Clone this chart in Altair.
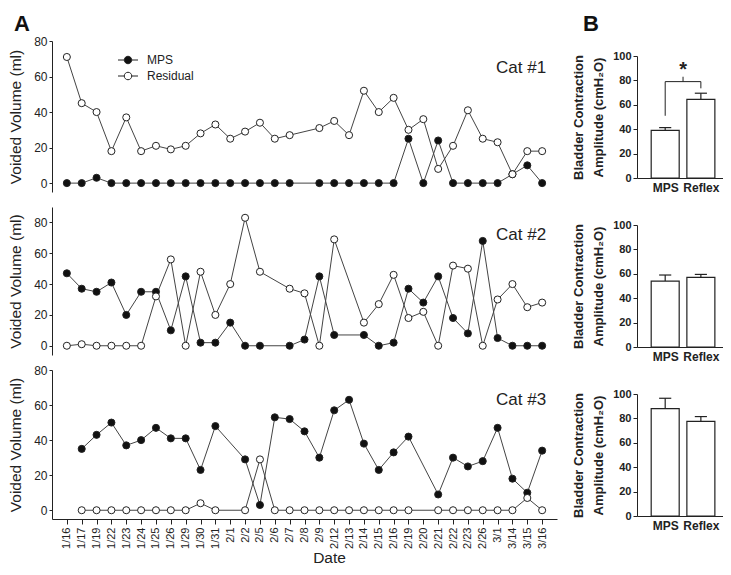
import altair as alt
import pandas as pd

dates = ["1/16", "1/17", "1/19", "1/22", "1/23", "1/24", "1/25", "1/26", "1/29", "1/30",
         "1/31", "2/1", "2/2", "2/5", "2/6", "2/7", "2/8", "2/9", "2/12", "2/13",
         "2/14", "2/15", "2/16", "2/19", "2/20", "2/21", "2/22", "2/23", "2/26", "3/1",
         "3/14", "3/15", "3/16"]
N = None
cat1_mps = [0, 0, 3, 0, 0, 0, 0, 0, 0, 0, 0, 0, 0, 0, 0, 0, N, 0, 0, 0, 0, 0, 0, 25, 0, 24, 0, 0, 0, 0, 5, 10, 0]
cat1_res = [71, 45, 40, 18, 37, 18, 21, 19, 21, 28, 33, 25, 29, 34, 25, 27, N, 31, 35, 27, 52, 40, 48, 30, 36, 8, 21, 41, 25, 23, 5, 18, 18]
cat2_mps = [47, 37, 35, 41, 20, 35, 35, 10, 45, 2, 2, 15, 0, 0, N, 0, 4, 45, 7, N, 7, 0, 2, 37, 28, 45, 18, 8, 68, 5, 0, 0, 0]
cat2_res = [0, 1, 0, 0, 0, 0, 32, 56, 0, 48, 20, 40, 83, 48, N, 37, 34, 0, 69, N, 15, 27, 46, 18, 22, 0, 52, 50, 0, 30, 40, 25, 28]
cat3_mps = [N, 35, 43, 50, 37, 40, 47, 41, 41, 23, 48, N, 29, 3, 53, 52, 45, 30, 57, 63, 38, 23, 33, 42, N, 9, 30, 25, 28, 47, 18, 10, 34]
cat3_res = [N, 0, 0, 0, 0, 0, 0, 0, 0, 4, 0, N, 0, 29, 0, 0, 0, 0, 0, 0, 0, 0, 0, 0, N, 0, 0, 0, 0, 0, 0, 7, 0]
series_names = ["MPS", "Residual"]
cat_labels = ["Cat #1", "Cat #2", "Cat #3"]
cat_label_y = [65, 72, 63]
y_ticks_line = [0, 20, 40, 60, 80]
panel_letters = ["A", "B"]

groups = ["MPS", "Reflex"]
b1_mean = [39, 64.5]
b1_err = [2.3, 5]
b2_mean = [54, 57]
b2_err = [5, 2.5]
b3_mean = [88, 77.5]
b3_err = [8.5, 4]
# significance bracket (B, top panel)
br_x = [0, 1, 0, 0.5]
br_x2 = [0, 1, 1, 0.5]
br_y = [51, 73.5, 79, 79]
br_y2 = [79, 79, 79, 83]
star_y = 88.5
y_ticks_bar = [0, 20, 40, 60, 80, 100]

FONT = "Liberation Sans"
INK = "#222"


def panel_df(mps, res):
    rows = []
    for i, (d, m, r) in enumerate(zip(dates, mps, res)):
        if m is not None:
            rows.append({"idx": i, "date": d, "series": "MPS", "value": m})
        if r is not None:
            rows.append({"idx": i, "date": d, "series": "Residual", "value": r})
    return pd.DataFrame(rows)


legend_path = ("M-2,0L-0.75,0M0.75,0L2,0M0.75,0A0.75,0.75,0,1,1,-0.75,0"
               "A0.75,0.75,0,1,1,0.75,0Z")


def letter(t, dx, dy):
    return alt.Chart(pd.DataFrame({"t": [t]})).mark_text(
        align="left", baseline="top", fontSize=22, fontWeight="bold",
        color="#111").encode(x=alt.value(dx), y=alt.value(dy), text="t:N")


def line_panel(mps, res, label, label_y, ydomain, height, show_x, show_legend):
    df = panel_df(mps, res)
    if show_x:
        xaxis = alt.Axis(title="Date", labelAngle=-90, labelFontSize=11, tickSize=5,
                         labelPadding=3, titleFontSize=15.5, titlePadding=2,
                         titleFontWeight="normal", titleX=277, domainColor=INK,
                         tickColor=INK, labelColor=INK, titleColor=INK)
    else:
        xaxis = None
    x = alt.X("date:O", scale=alt.Scale(type="point", domain=dates, padding=1),
              sort=dates, axis=xaxis)
    y = alt.Y("value:Q", scale=alt.Scale(domain=ydomain, nice=False, zero=False),
              axis=alt.Axis(values=y_ticks_line, title="Voided Volume (ml)",
                            labelFontSize=12, tickSize=3, labelPadding=2,
                            titleFontSize=15.5, titlePadding=10, titleFontWeight="normal",
                            domainColor=INK, tickColor=INK, labelColor=INK,
                            titleColor=INK))
    if show_legend:
        legend = alt.Legend(title=None, orient="none", legendX=70, legendY=13,
                            symbolType=legend_path, symbolSize=100,
                            symbolStrokeColor=INK, symbolStrokeWidth=1,
                            labelFontSize=12, labelOffset=13, rowPadding=4,
                            padding=0, labelColor=INK)
    else:
        legend = None
    base = alt.Chart(df)
    lines = base.mark_line(color="#444", strokeWidth=1).encode(
        x=x, y=y, detail="series:N", order="idx:Q")
    pts = base.mark_point(shape="circle", filled=True, size=50, stroke=INK,
                          strokeWidth=1, opacity=1).encode(
        x=x, y=y,
        fill=alt.Fill("series:N", scale=alt.Scale(domain=series_names,
                                                  range=["#111111", "#ffffff"]),
                      legend=legend))
    ldf = pd.DataFrame({"date": [dates[-1]], "value": [label_y], "label": [label]})
    txt = alt.Chart(ldf).mark_text(align="right", baseline="middle", dx=4,
                                   fontSize=17, color=INK).encode(
        x=x, y=y, text="label:N")
    layers = [lines, pts, txt]
    if show_legend:
        layers.append(letter(panel_letters[0], -38, -27))
    return alt.layer(*layers).properties(width=505, height=height)


def bar_panel(means, errs, bracket):
    df = pd.DataFrame({"x": [0, 1], "group": groups, "y": means, "err": errs})
    df["y2"] = df["y"] + df["err"]
    label_expr = "datum.value == 0 ? '%s' : '%s'" % (groups[0], groups[1])
    xaxis = alt.Axis(values=[0, 1], labelExpr=label_expr, ticks=False, title=None,
                     labelFontWeight="bold", labelFontSize=12, labelPadding=4,
                     labelAngle=0, domainColor=INK, labelColor=INK)
    yaxis = alt.Axis(values=y_ticks_bar,
                     title=["Bladder Contraction", "Amplitude (cmH\u2082O)"],
                     labelFontWeight="bold", labelFontSize=11, tickSize=4,
                     labelPadding=2, titleFontSize=13, titleFontWeight="bold",
                     titleLineHeight=20, titlePadding=7, domainColor=INK,
                     tickColor=INK, labelColor=INK, titleColor=INK)
    xs = alt.Scale(domain=[-0.65, 1.48], nice=False, zero=False)
    ys = alt.Scale(domain=[0, 100], nice=False)

    def X(f):
        return alt.X(f, type="quantitative", scale=xs, axis=xaxis)

    def Y(f):
        return alt.Y(f, type="quantitative", scale=ys, axis=yaxis)

    base = alt.Chart(df)
    bars = base.mark_bar(size=28, fill="white", stroke=INK, strokeWidth=1.2).encode(
        x=X("x"), y=Y("y"))
    err = base.mark_rule(color=INK, strokeWidth=1.2).encode(
        x=X("x"), y=Y("y"), y2="y2:Q")
    cap = base.transform_calculate(
        x1="datum.x - 0.17", x3="datum.x + 0.17").mark_rule(
        color=INK, strokeWidth=1.2).encode(x=X("x1"), x2="x3:Q", y=Y("y2"))
    layers = [bars, err, cap]
    if bracket:
        bdf = pd.DataFrame({"x": br_x, "x2": br_x2, "y": br_y, "y2": br_y2})
        br = alt.Chart(bdf).mark_rule(color=INK, strokeWidth=1).encode(
            x=X("x"), x2="x2:Q", y=Y("y"), y2="y2:Q")
        sdf = pd.DataFrame({"x": [0.5], "y": [star_y], "t": ["*"]})
        star = alt.Chart(sdf).mark_text(fontSize=20, fontWeight="bold",
                                        baseline="middle", color=INK).encode(
            x=X("x"), y=Y("y"), text="t:N")
        layers += [br, star]
    return alt.layer(*layers).properties(width=86, height=122)


p1 = line_panel(cat1_mps, cat1_res, cat_labels[0], cat_label_y[0], [-5, 80], 151, False, True)
p2 = line_panel(cat2_mps, cat2_res, cat_labels[1], cat_label_y[1], [-6, 90], 148, False, False)
p3 = line_panel(cat3_mps, cat3_res, cat_labels[2], cat_label_y[2], [-5, 80], 149, True, False)

left = alt.vconcat(p1, p2, p3, spacing=15, bounds="flush").resolve_legend(fill="independent")

b1 = bar_panel(b1_mean, b1_err, True)
b2 = bar_panel(b2_mean, b2_err, False)
b3 = bar_panel(b3_mean, b3_err, False)
bars_col = alt.vconcat(b1, b2, b3, spacing=47, bounds="flush")
spacer = letter(panel_letters[1], -54, -27).properties(width=86, height=15)
right = alt.vconcat(spacer, bars_col, spacing=0, bounds="flush")

chart = alt.hconcat(left, right, spacing=15).resolve_legend(
    fill="independent").properties(
    padding={"top": 5, "left": 0, "right": 0, "bottom": 0}).configure(
    font=FONT).configure_view(stroke=None).configure_axis(grid=False)

chart.save("out.html", embed_options={"renderer": "svg", "actions": False})
